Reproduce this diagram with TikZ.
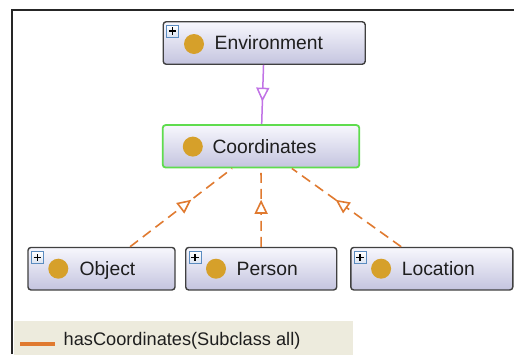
\documentclass[tikz,border=0pt]{standalone}
\usepackage{fontspec}
\setmainfont{Liberation Sans}
\usetikzlibrary{arrows.meta,decorations.markings,calc}
\definecolor{nodetop}{HTML}{F7F7FD}
\definecolor{nodebot}{HTML}{C4C4DF}
\definecolor{nodeborder}{HTML}{404040}
\definecolor{greenborder}{HTML}{5FDC4E}
\definecolor{dotc}{HTML}{D6A02A}
\definecolor{purplec}{HTML}{C173E6}
\definecolor{orangec}{HTML}{E07A30}
\definecolor{legendbg}{HTML}{EDEBDD}
\definecolor{plusborder}{HTML}{5B8CC0}
\definecolor{txt}{HTML}{1E1E1E}
\begin{document}
\begin{tikzpicture}[x=1pt,y=-1pt,
  cls/.style={draw=nodeborder, line width=1.4pt, rounded corners=3pt,
    top color=nodetop, bottom color=nodebot, minimum height=42.5pt, inner sep=0pt},
  lbl/.style={anchor=base west, inner sep=0pt, text=txt, font=\fontsize{19.3}{22}\selectfont},
  dotnode/.style={circle, fill=dotc, minimum size=20pt, inner sep=0pt},
  plusbox/.style={draw=plusborder, line width=0.8pt, top color=white, bottom color=nodetop!80!plusborder,
    minimum size=12pt, inner sep=0pt,
    path picture={\draw[black,line width=1.4pt]
      ([yshift=-2.3pt]path picture bounding box.north) -- ([yshift=2.3pt]path picture bounding box.south)
      ([xshift=2.3pt]path picture bounding box.west) -- ([xshift=-2.3pt]path picture bounding box.east);}},
  tipmark/.style={postaction={decorate}, decoration={markings,
    mark=at position #1 with {\arrow{Triangle[fill=white,length=14pt,width=13pt]}}}},
  subline/.style={draw=purplec, line width=1.5pt, tipmark=0.62},
  hasline/.style={draw=orangec, line width=1.6pt, dash pattern=on 10pt off 6pt, tipmark=0.6}
]
\useasboundingbox (0,0) rectangle (514,354);
\fill[white] (0,0) rectangle (514,354);

% legend
\node[fill=legendbg, minimum width=339.5pt, minimum height=40pt, anchor=north west, inner sep=0pt] (leg) at (13.5,320.7) {};
\coordinate (la) at (20,343.5);
\coordinate (lb) at (55,343.5);
\draw[orangec, line width=4pt] (la) -- (lb);
\node[anchor=base west, inner sep=0pt, text=txt, font=\fontsize{18.2}{21}\selectfont] (legt) at (63.5,345.5) {hasCoordinates(Subclass all)};

% frame
\coordinate (fa) at (11.8,354);
\coordinate (fb) at (11.8,10);
\coordinate (fc) at (514,10);
\draw[line width=2pt, draw=black!85] (fa) -- (fb) -- (fc);

% class nodes
\node[cls, minimum width=202pt] (env) at (264.2,43) {};
\node[cls, draw=greenborder, line width=1.8pt, minimum width=196.6pt] (coord) at (261,146.3) {};
\node[cls, minimum width=147pt] (obj) at (101.5,268.7) {};
\node[cls, minimum width=151pt] (per) at (261.2,268.7) {};
\node[cls, minimum width=162pt] (loc) at (431.8,268.7) {};

% dots
\node[dotnode] (envd) at ($(env.west)+(31.5,1)$) {};
\node[dotnode] (coordd) at ($(coord.west)+(31,0.3)$) {};
\node[dotnode] (objd) at ($(obj.west)+(31,0)$) {};
\node[dotnode] (perd) at ($(per.west)+(31,0)$) {};
\node[dotnode] (locd) at ($(loc.west)+(31,0)$) {};

% plus boxes
\node[plusbox] (envp) at ($(env.north west)+(10,10)$) {};
\node[plusbox] (objp) at ($(obj.north west)+(10,11)$) {};
\node[plusbox] (perp) at ($(per.north west)+(10,11)$) {};
\node[plusbox] (locp) at ($(loc.north west)+(10,11)$) {};

% labels
\node[lbl] (envt) at ($(env.west)+(52,6.7)$) {Environment};
\node[lbl] (coordt) at ($(coord.west)+(50.5,6.7)$) {Coordinates};
\node[lbl] (objt) at ($(obj.west)+(52,6.7)$) {Object};
\node[lbl] (pert) at ($(per.west)+(51.5,6.7)$) {Person};
\node[lbl] (loct) at ($(loc.west)+(51.5,6.7)$) {Location};

% connectors
\draw[subline] (env) -- (coord);
\draw[hasline] (obj) -- (coord);
\draw[hasline] (per) -- (coord);
\draw[hasline] (loc) -- (coord);
\end{tikzpicture}
\end{document}
